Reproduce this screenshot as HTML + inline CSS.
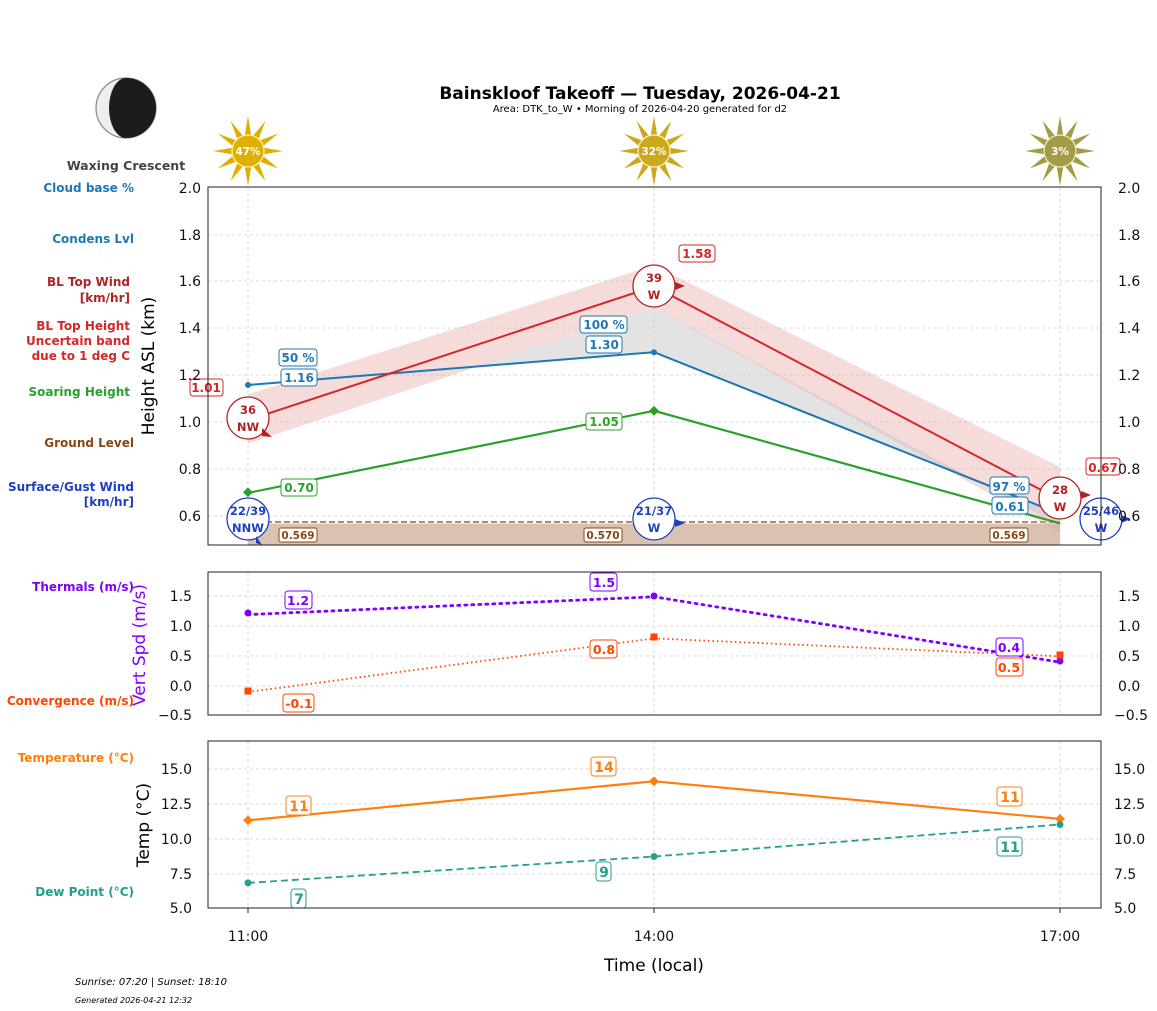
<!DOCTYPE html>
<html><head><meta charset="utf-8"><style>
html,body{margin:0;padding:0;background:#fff}
svg{display:block;font-family:"DejaVu Sans","Liberation Sans",sans-serif}
.b{font-weight:bold}
</style></head><body>
<svg width="1157" height="1011" viewBox="0 0 1157 1011" xmlns="http://www.w3.org/2000/svg">
<defs>
<polygon id="sun" points="35,0 13.5,3.6 30.3,17.5 9.9,9.9 17.5,30.3 3.6,13.5 0,35 -3.6,13.5 -17.5,30.3 -9.9,9.9 -30.3,17.5 -13.5,3.6 -35,0 -13.5,-3.6 -30.3,-17.5 -9.9,-9.9 -17.5,-30.3 -3.6,-13.5 0,-35 3.6,-13.5 17.5,-30.3 9.9,-9.9 30.3,-17.5 13.5,-3.6"/>
</defs>
<!-- title -->
<text x="640" y="99" text-anchor="middle" font-size="17" class="b" fill="#000">Bainskloof Takeoff — Tuesday, 2026-04-21</text>
<text x="640" y="112" text-anchor="middle" font-size="10" fill="#000">Area: DTK_to_W • Morning of 2026-04-20 generated for d2</text>
<!-- moon -->
<circle cx="126" cy="108" r="30" fill="#eeeeee" stroke="#888" stroke-width="1.2"/>
<path d="M126,78 A30,30 0 0 1 126,138 A17,30 0 0 1 126,78Z" fill="#1c1c1c"/>
<text x="126" y="170" text-anchor="middle" font-size="12.5" class="b" fill="#444">Waxing Crescent</text>
<!-- suns -->
<g transform="translate(248,151)"><use href="#sun" fill="#e0b000"/><circle r="16" fill="#e0b000" stroke="#fff3b0" stroke-width="1.2"/><text y="4" text-anchor="middle" font-size="10.5" class="b" fill="#fff">47%</text></g>
<g transform="translate(654,151)"><use href="#sun" fill="#cba81e"/><circle r="16" fill="#cba81e" stroke="#fff3b0" stroke-width="1.2"/><text y="4" text-anchor="middle" font-size="10.5" class="b" fill="#fff">32%</text></g>
<g transform="translate(1060,151)"><use href="#sun" fill="#a39b45"/><circle r="16" fill="#a39b45" stroke="#f0ecc0" stroke-width="1.2"/><text y="4" text-anchor="middle" font-size="10.5" class="b" fill="#fff">3%</text></g>

<!-- left labels -->
<g font-size="12" class="b" text-anchor="end">
<text x="134" y="192" fill="#1f77b4">Cloud base %</text>
<text x="134" y="243" fill="#1f77b4">Condens Lvl</text>
<text x="130" y="286" fill="#b22222">BL Top Wind</text>
<text x="130" y="302" fill="#b22222">[km/hr]</text>
<text x="130" y="330" fill="#d62728">BL Top Height</text>
<text x="130" y="345" fill="#d62728">Uncertain band</text>
<text x="130" y="360" fill="#d62728">due to 1 deg C</text>
<text x="130" y="396" fill="#2ca02c">Soaring Height</text>
<text x="134" y="447" fill="#8b4513">Ground Level</text>
<text x="134" y="491" fill="#1f3fbf">Surface/Gust Wind</text>
<text x="134" y="506" fill="#1f3fbf">[km/hr]</text>
<text x="134" y="591" fill="#7f00ff">Thermals (m/s)</text>
<text x="134" y="705" fill="#ff4500">Convergence (m/s)</text>
<text x="134" y="762" fill="#ff7f0e">Temperature (°C)</text>
<text x="134" y="896" fill="#20a090">Dew Point (°C)</text>
</g>

<!-- ===== Panel 1 ===== -->
<g stroke="#ccc" stroke-width="0.8" stroke-dasharray="3,3">
<line x1="208" x2="1101" y1="235" y2="235"/><line x1="208" x2="1101" y1="281" y2="281"/><line x1="208" x2="1101" y1="328" y2="328"/><line x1="208" x2="1101" y1="375" y2="375"/><line x1="208" x2="1101" y1="422" y2="422"/><line x1="208" x2="1101" y1="469" y2="469"/><line x1="208" x2="1101" y1="516" y2="516"/>
<line x1="248" x2="248" y1="187" y2="545"/><line x1="654" x2="654" y1="187" y2="545"/><line x1="1060" x2="1060" y1="187" y2="545"/>
</g>
<!-- ground -->
<rect x="248" y="523.6" width="812" height="21.4" fill="#d9c2b2"/>
<line x1="248" x2="1060" y1="522" y2="522" stroke="#a0623d" stroke-width="1.6" stroke-dasharray="6,3"/>
<!-- band -->
<polygon points="248,394.4 654,265.4 1060,467.1 1060,532.7 654,307.6 248,443.6" fill="#e8a0a0" opacity="0.38"/>
<!-- gray -->
<polygon points="479,366 654,307.6 1040,515 1060,522 1060,514 654,352.2" fill="#c8c8c8" opacity="0.5"/>
<!-- lines -->
<polyline points="248,385 654,352.2 1060,514" fill="none" stroke="#1f77b4" stroke-width="2"/>
<polyline points="248,420.2 654,286.5 1060,499.9" fill="none" stroke="#d62728" stroke-width="2"/>
<polyline points="248,492.9 654,410.8 1060,523.3" fill="none" stroke="#2ca02c" stroke-width="2.2"/>
<circle cx="248" cy="385" r="3" fill="#1f77b4"/><circle cx="654" cy="352.2" r="3" fill="#1f77b4"/>
<rect x="244" y="489" width="7" height="7" transform="rotate(45 248 492.9)" fill="#2ca02c"/>
<rect x="650.5" y="407.3" width="7" height="7" transform="rotate(45 654 410.8)" fill="#2ca02c"/>
<!-- boxed labels -->
<g font-size="12" class="b" text-anchor="middle">
<rect x="279" y="349" width="38" height="17" rx="3" fill="#fff" stroke="#1f77b4"/><text x="298" y="362" fill="#1f77b4">50 %</text>
<rect x="281" y="369" width="36" height="17" rx="3" fill="#fff" stroke="#1f77b4"/><text x="299" y="382" fill="#1f77b4">1.16</text>
<rect x="190" y="379" width="33" height="17" rx="3" fill="#fff" stroke="#d62728"/><text x="206" y="392" fill="#d62728">1.01</text>
<rect x="281" y="479" width="36" height="17" rx="3" fill="#fff" stroke="#2ca02c"/><text x="299" y="492" fill="#2ca02c">0.70</text>
<rect x="580" y="316" width="47" height="17" rx="3" fill="#fff" stroke="#1f77b4"/><text x="604" y="329" fill="#1f77b4">100 %</text>
<rect x="586" y="336" width="36" height="17" rx="3" fill="#fff" stroke="#1f77b4"/><text x="604" y="349" fill="#1f77b4">1.30</text>
<rect x="586" y="413" width="36" height="17" rx="3" fill="#fff" stroke="#2ca02c"/><text x="604" y="426" fill="#2ca02c">1.05</text>
<rect x="679" y="245" width="36" height="17" rx="3" fill="#fff" stroke="#d62728"/><text x="697" y="258" fill="#d62728">1.58</text>
<rect x="990" y="477" width="39" height="17" rx="3" fill="#fff" stroke="#1f77b4"/><text x="1009" y="491" fill="#1f77b4">97 %</text>
<rect x="992" y="497" width="36" height="17" rx="3" fill="#fff" stroke="#1f77b4"/><text x="1010" y="511" fill="#1f77b4">0.61</text>
<rect x="1086" y="458" width="34" height="17" rx="3" fill="#fff" stroke="#d62728"/><text x="1103" y="472" fill="#d62728">0.67</text>
</g>
<g font-size="10.5" class="b" text-anchor="middle" fill="#8b4513">
<rect x="279" y="528" width="38" height="14" rx="2" fill="#fff" stroke="#8b4513"/><text x="298" y="539">0.569</text>
<rect x="584" y="528" width="38" height="14" rx="2" fill="#fff" stroke="#8b4513"/><text x="603" y="539">0.570</text>
<rect x="990" y="528" width="38" height="14" rx="2" fill="#fff" stroke="#8b4513"/><text x="1009" y="539">0.569</text>
</g>
<!-- wind circles -->
<g font-size="11.5" class="b" text-anchor="middle">
<circle cx="248" cy="418" r="21" fill="#fff" stroke="#b22222" stroke-width="1.3"/><text x="248" y="414" fill="#b22222">36</text><text x="248" y="431" fill="#b22222">NW</text>
<polygon points="262,428 272,437 262,436" fill="#b22222"/>
<circle cx="654" cy="286" r="21" fill="#fff" stroke="#b22222" stroke-width="1.3"/><text x="654" y="282" fill="#b22222">39</text><text x="654" y="299" fill="#b22222">W</text>
<polygon points="675,282 685,286 675,290" fill="#b22222"/>
<circle cx="1060" cy="498" r="21" fill="#fff" stroke="#b22222" stroke-width="1.3"/><text x="1060" y="494" fill="#b22222">28</text><text x="1060" y="511" fill="#b22222">W</text>
<polygon points="1081,491 1091,495 1081,499" fill="#b22222"/>
<circle cx="248" cy="519" r="21" fill="#fff" stroke="#1f3fbf" stroke-width="1.3"/><text x="248" y="515" fill="#1f3fbf">22/39</text><text x="248" y="532" fill="#1f3fbf">NNW</text>
<polygon points="256,536 262,545 256,543" fill="#1f3fbf"/>
<circle cx="654" cy="519" r="21" fill="#fff" stroke="#1f3fbf" stroke-width="1.3"/><text x="654" y="515" fill="#1f3fbf">21/37</text><text x="654" y="532" fill="#1f3fbf">W</text>
<polygon points="675,519 685,523 675,527" fill="#1f3fbf"/>
<circle cx="1101" cy="519" r="21" fill="#fff" stroke="#1f3fbf" stroke-width="1.3"/><text x="1101" y="515" fill="#1f3fbf">25/46</text><text x="1101" y="532" fill="#1f3fbf">W</text>
<polygon points="1121,515 1131,519 1121,523" fill="#1f3fbf"/>
</g>
<rect x="208" y="187" width="893" height="358" fill="none" stroke="#222" stroke-width="1"/>
<g font-size="14" fill="#111">
<g text-anchor="end"><text x="201" y="193">2.0</text><text x="201" y="240">1.8</text><text x="201" y="286">1.6</text><text x="201" y="333">1.4</text><text x="201" y="380">1.2</text><text x="201" y="427">1.0</text><text x="201" y="474">0.8</text><text x="201" y="521">0.6</text></g>
<g><text x="1118" y="193">2.0</text><text x="1118" y="240">1.8</text><text x="1118" y="286">1.6</text><text x="1118" y="333">1.4</text><text x="1118" y="380">1.2</text><text x="1118" y="427">1.0</text><text x="1118" y="474">0.8</text><text x="1118" y="521">0.6</text></g>
</g>
<text transform="translate(154,366) rotate(-90)" text-anchor="middle" font-size="17" fill="#000">Height ASL (km)</text>

<!-- ===== Panel 2 ===== -->
<g stroke="#ccc" stroke-width="0.8" stroke-dasharray="3,3">
<line x1="208" x2="1101" y1="596" y2="596"/><line x1="208" x2="1101" y1="626" y2="626"/><line x1="208" x2="1101" y1="656" y2="656"/><line x1="208" x2="1101" y1="686" y2="686"/>
<line x1="248" x2="248" y1="572" y2="715"/><line x1="654" x2="654" y1="572" y2="715"/><line x1="1060" x2="1060" y1="572" y2="715"/>
</g>
<polyline points="248,614.6 654,596.8 1060,662.2" fill="none" stroke="#7f00ff" stroke-width="2.8" stroke-dasharray="2,5" stroke-linecap="round"/>
<polyline points="248,692 654,638.4 1060,656.3" fill="none" stroke="#ff4500" stroke-width="1.8" stroke-dasharray="1.5,3"/>
<circle cx="248" cy="613" r="3.5" fill="#7f00ff"/><circle cx="654" cy="596" r="3.5" fill="#7f00ff"/><circle cx="1060" cy="661" r="3.5" fill="#7f00ff"/>
<rect x="244.5" y="687.5" width="7" height="7" fill="#ff4500"/><rect x="650.5" y="633.5" width="7" height="7" fill="#ff4500"/><rect x="1056.5" y="651.5" width="7" height="7" fill="#ff4500"/>
<g font-size="12.5" class="b" text-anchor="middle">
<rect x="285" y="591" width="27" height="18" rx="3" fill="#fff" stroke="#7f00ff"/><text x="298" y="605" fill="#7f00ff">1.2</text>
<rect x="283" y="694" width="31" height="18" rx="3" fill="#fff" stroke="#ff4500"/><text x="299" y="708" fill="#ff4500">-0.1</text>
<rect x="590" y="573" width="27" height="18" rx="3" fill="#fff" stroke="#7f00ff"/><text x="604" y="587" fill="#7f00ff">1.5</text>
<rect x="590" y="640" width="27" height="18" rx="3" fill="#fff" stroke="#ff4500"/><text x="604" y="654" fill="#ff4500">0.8</text>
<rect x="996" y="638" width="27" height="18" rx="3" fill="#fff" stroke="#7f00ff"/><text x="1009" y="652" fill="#7f00ff">0.4</text>
<rect x="996" y="658" width="27" height="18" rx="3" fill="#fff" stroke="#ff4500"/><text x="1009" y="672" fill="#ff4500">0.5</text>
</g>
<rect x="208" y="572" width="893" height="143" fill="none" stroke="#222" stroke-width="1"/>
<g font-size="14" fill="#111">
<g text-anchor="end"><text x="192" y="601">1.5</text><text x="192" y="631">1.0</text><text x="192" y="661">0.5</text><text x="192" y="691">0.0</text><text x="192" y="720">−0.5</text></g>
<g><text x="1118" y="601">1.5</text><text x="1118" y="631">1.0</text><text x="1118" y="661">0.5</text><text x="1118" y="691">0.0</text><text x="1114" y="720">−0.5</text></g>
</g>
<text transform="translate(145,645) rotate(-90)" text-anchor="middle" font-size="17" fill="#7f00ff">Vert Spd (m/s)</text>

<!-- ===== Panel 3 ===== -->
<g stroke="#ccc" stroke-width="0.8" stroke-dasharray="3,3">
<line x1="208" x2="1101" y1="769" y2="769"/><line x1="208" x2="1101" y1="804" y2="804"/><line x1="208" x2="1101" y1="839" y2="839"/><line x1="208" x2="1101" y1="874" y2="874"/>
<line x1="248" x2="248" y1="741" y2="908"/><line x1="654" x2="654" y1="741" y2="908"/><line x1="1060" x2="1060" y1="741" y2="908"/>
</g>
<polyline points="248,820.3 654,781.3 1060,818.9" fill="none" stroke="#ff7f0e" stroke-width="2.2"/>
<polyline points="248,882.9 654,856.5 1060,824.5" fill="none" stroke="#25a08f" stroke-width="1.8" stroke-dasharray="7,4"/>
<rect x="244.5" y="816.8" width="7" height="7" transform="rotate(45 248 820.3)" fill="#ff7f0e"/>
<rect x="650.5" y="777.8" width="7" height="7" transform="rotate(45 654 781.3)" fill="#ff7f0e"/>
<rect x="1056.5" y="815.4" width="7" height="7" transform="rotate(45 1060 818.9)" fill="#ff7f0e"/>
<circle cx="248" cy="882.9" r="3.5" fill="#25a08f"/><circle cx="654" cy="856.5" r="3.5" fill="#25a08f"/><circle cx="1060" cy="824.5" r="3.5" fill="#25a08f"/>
<g font-size="14" class="b" text-anchor="middle">
<rect x="286" y="796" width="25" height="19" rx="3" fill="#fff" stroke="#ff7f0e"/><text x="299" y="811" fill="#ff7f0e">11</text>
<rect x="591" y="757" width="25" height="19" rx="3" fill="#fff" stroke="#ff7f0e"/><text x="604" y="772" fill="#ff7f0e">14</text>
<rect x="997" y="787" width="25" height="19" rx="3" fill="#fff" stroke="#ff7f0e"/><text x="1010" y="802" fill="#ff7f0e">11</text>
<rect x="291" y="889" width="15" height="19" rx="3" fill="#fff" stroke="#25a08f"/><text x="299" y="904" fill="#25a08f">7</text>
<rect x="596" y="862" width="15" height="19" rx="3" fill="#fff" stroke="#25a08f"/><text x="604" y="877" fill="#25a08f">9</text>
<rect x="997" y="837" width="25" height="19" rx="3" fill="#fff" stroke="#25a08f"/><text x="1010" y="852" fill="#25a08f">11</text>
</g>
<rect x="208" y="741" width="893" height="167" fill="none" stroke="#222" stroke-width="1"/>
<g font-size="14" fill="#111">
<g text-anchor="end"><text x="192" y="774">15.0</text><text x="192" y="809">12.5</text><text x="192" y="844">10.0</text><text x="192" y="879">7.5</text><text x="192" y="913">5.0</text></g>
<g><text x="1114" y="774">15.0</text><text x="1114" y="809">12.5</text><text x="1114" y="844">10.0</text><text x="1114" y="879">7.5</text><text x="1114" y="913">5.0</text></g>
</g>
<g stroke="#222"><line x1="248" x2="248" y1="908" y2="913"/><line x1="654" x2="654" y1="908" y2="913"/><line x1="1060" x2="1060" y1="908" y2="913"/></g>
<text transform="translate(149,825) rotate(-90)" text-anchor="middle" font-size="17" fill="#000">Temp (°C)</text>
<g font-size="14" fill="#111" text-anchor="middle"><text x="248" y="941">11:00</text><text x="654" y="941">14:00</text><text x="1060" y="941">17:00</text></g>
<text x="654" y="971" text-anchor="middle" font-size="17" fill="#000">Time (local)</text>
<text x="75" y="985" font-size="10" font-style="italic" fill="#000">Sunrise: 07:20 | Sunset: 18:10</text>
<text x="75" y="1003" font-size="8" font-style="italic" fill="#000">Generated 2026-04-21 12:32</text>
</svg>
</body></html>
